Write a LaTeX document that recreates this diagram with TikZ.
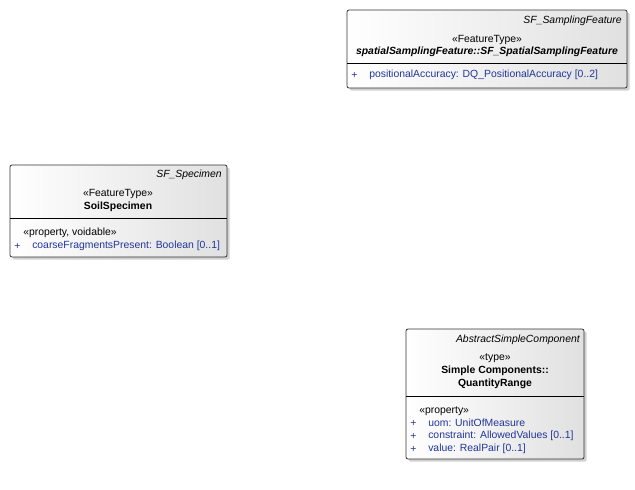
\documentclass[tikz,border=0pt]{standalone}
\usepackage{fontspec}
\setmainfont{Liberation Sans}
\usetikzlibrary{shadows}
\definecolor{attr}{HTML}{22359A}
\begin{document}
\begin{tikzpicture}[x=0.75pt,y=-0.75pt,
  cls/.style={draw=black!80,line width=0.6pt,rounded corners=1.5pt,left color=white,right color=black!12,
    drop shadow={shadow xshift=2pt,shadow yshift=-2pt,fill=black!30,opacity=0.6}},
  txt/.style={inner sep=0pt,font=\fontsize{7.8}{9}\selectfont},
  ttl/.style={txt,font=\fontsize{7.8}{9}\selectfont\itshape,anchor=east},
  mid/.style={txt,anchor=center},
  plus/.style={txt,text=attr,anchor=west},
  att/.style={txt,text=attr,anchor=west},
  sep/.style={draw=black,line width=0.6pt}]
\useasboundingbox (0,0) rectangle (635,489);

% Box 1
\path[cls] (347,10) rectangle (627,88);
\node[ttl] (t1) at (622,21) {SF\_SamplingFeature};
\node[mid] (s1) at (487,40) {«FeatureType»};
\node[mid,font=\fontsize{7.8}{9}\selectfont\bfseries\itshape] (n1) at (487,52) {spatialSamplingFeature::SF\_SpatialSamplingFeature};
\coordinate (l1a) at (347,63); \coordinate (l1b) at (627,63);
\draw[sep] (l1a) -- (l1b);
\node[plus] (p1) at (351,75) {+};
\node[att] (a1) at (369,75) {positionalAccuracy: DQ\_PositionalAccuracy [0..2]};

% Box 2
\path[cls] (10,165) rectangle (227,257);
\node[ttl] (t2) at (222,175) {SF\_Specimen};
\node[mid] (s2) at (118,194) {«FeatureType»};
\node[mid,font=\fontsize{7.8}{9}\selectfont\bfseries] (n2) at (118,207) {SoilSpecimen};
\coordinate (l2a) at (10,218); \coordinate (l2b) at (227,218);
\draw[sep] (l2a) -- (l2b);
\node[txt,anchor=west] (s2b) at (23,233) {«property, voidable»};
\node[plus] (p2) at (14,246) {+};
\node[att] (a2) at (32,246) {coarseFragmentsPresent: Boolean [0..1]};

% Box 3
\path[cls] (406,329) rectangle (584,459);
\node[ttl] (t3) at (580,340) {AbstractSimpleComponent};
\node[mid] (s3) at (495,358) {«type»};
\node[mid,font=\fontsize{7.8}{9}\selectfont\bfseries] (n3a) at (495,371) {Simple Components::};
\node[mid,font=\fontsize{7.8}{9}\selectfont\bfseries] (n3b) at (495,384) {QuantityRange};
\coordinate (l3a) at (406,396); \coordinate (l3b) at (584,396);
\draw[sep] (l3a) -- (l3b);
\node[txt,anchor=west] (s3b) at (419,411) {«property»};
\node[plus] (p3a) at (410,423) {+};
\node[att] (a3a) at (428,423) {uom: UnitOfMeasure};
\node[plus] (p3b) at (410,436) {+};
\node[att] (a3b) at (428,436) {constraint: AllowedValues [0..1]};
\node[plus] (p3c) at (410,449) {+};
\node[att] (a3c) at (428,449) {value: RealPair [0..1]};
\end{tikzpicture}
\end{document}
